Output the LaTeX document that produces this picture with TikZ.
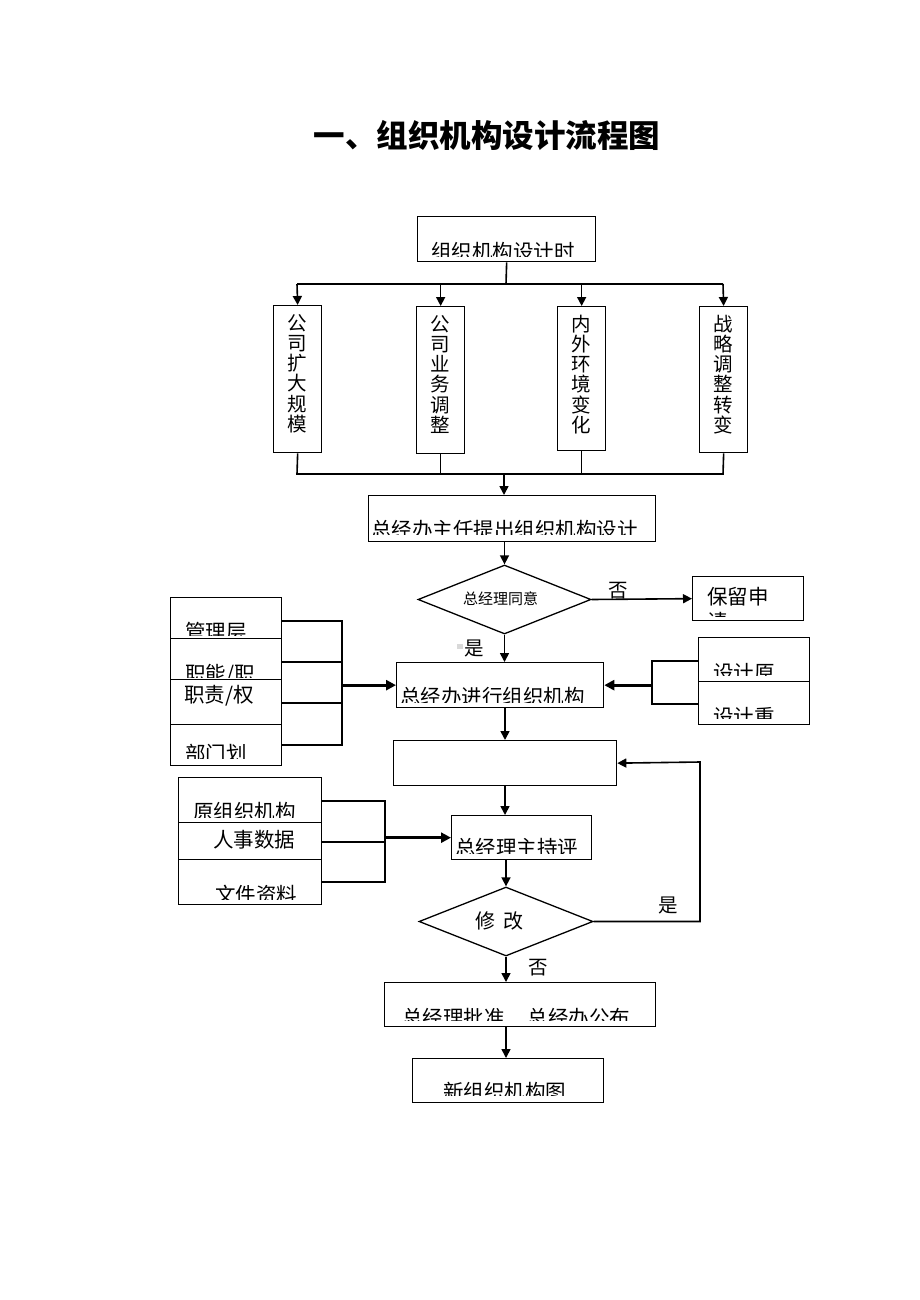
\documentclass[tikz,border=0pt]{standalone}
\usepackage{fontspec}
\setmainfont{Noto Sans CJK SC}
\usetikzlibrary{shapes.geometric,arrows.meta}
\newcommand\ctxt[6]{%
  \begin{scope}
    \clip (#2-8,#3-12) rectangle (#2+420,#4);
    \node[txt,font=\fontsize{#5}{#5}\selectfont] (#1) at (#2,{#3+0.83*#5}) {#6};
  \end{scope}}
\newcommand\ptxt[5]{\node[txt,font=\fontsize{#4}{#4}\selectfont] (#1) at (#2,{#3+0.83*#4}) {#5};}
\begin{document}
\begin{tikzpicture}[x=1pt,y=-1pt,
  box/.style={draw,line width=1.3pt,inner sep=0pt,anchor=north west},
  dia/.style={diamond,draw,line width=1.3pt,inner sep=0pt},
  conn/.style={line width=1.6pt},
  arr/.style={line width=1.6pt,-{Triangle[length=9pt,width=9pt]}},
  thickarr/.style={line width=2.8pt,-{Triangle[length=10pt,width=10pt]}},
  txt/.style={anchor=base west,inner sep=0pt},
  vch/.style={anchor=base,inner sep=0pt,font=\fontsize{19.5}{19.5}\selectfont},
]
\useasboundingbox (0,0) rectangle (920,1300);
\fill[white] (0,0) rectangle (920,1300);

% title
\node[font=\fontsize{31.5}{31.5}\selectfont\bfseries,inner sep=0pt] (title) at (487,135) {一、组织机构设计流程图};

% boxes
\node[box,minimum width=178pt,minimum height=45pt] (top) at (417,216) {};
\node[box,minimum width=48pt,minimum height=147pt] (b1) at (273,305) {};
\node[box,minimum width=48pt,minimum height=147pt] (b2) at (416,306) {};
\node[box,minimum width=48pt,minimum height=144pt] (b3) at (557,306) {};
\node[box,minimum width=48pt,minimum height=146pt] (b4) at (699,306) {};
\node[box,minimum width=287pt,minimum height=46pt] (zr) at (368,495) {};
\node[dia,minimum width=173pt,minimum height=69pt] (d1) at (504.5,599.5) {};
\node[box,minimum width=111pt,minimum height=44pt] (bl) at (692,576) {};
\node[box,minimum width=111pt,minimum height=41pt] (l1) at (170,597) {};
\node[box,minimum width=111pt,minimum height=41pt] (l2) at (170,638) {};
\node[box,minimum width=111pt,minimum height=45pt] (l3) at (170,679) {};
\node[box,minimum width=111pt,minimum height=41pt] (l4) at (170,724) {};
\node[box,minimum width=207pt,minimum height=45pt] (jx) at (396,662) {};
\node[box,minimum width=111pt,minimum height=44pt] (r1) at (698,637) {};
\node[box,minimum width=111pt,minimum height=43pt] (r2) at (698,681) {};
\node[box,minimum width=223pt,minimum height=45pt] (em) at (393,740) {};
\node[box,minimum width=143pt,minimum height=45pt] (g1) at (178,777) {};
\node[box,minimum width=143pt,minimum height=37pt] (g2) at (178,822) {};
\node[box,minimum width=143pt,minimum height=45pt] (g3) at (178,859) {};
\node[box,minimum width=140pt,minimum height=44pt] (pz) at (451,815) {};
\node[dia,minimum width=174pt,minimum height=69pt] (d2) at (506,921.5) {};
\node[box,minimum width=271pt,minimum height=44pt] (ap) at (384,982) {};
\node[box,minimum width=191pt,minimum height=44pt] (nw) at (412,1058) {};

% texts
\ctxt{ttop}{431}{242}{256}{20.5}{组织机构设计时}
\foreach \c [count=\i] in {公,司,扩,大,规,模}
  \node[vch] (v1-\i) at (297,{330+(\i-1)*20.3}) {\c};
\foreach \c [count=\i] in {公,司,业,务,调,整}
  \node[vch] (v2-\i) at (440,{331+(\i-1)*20.3}) {\c};
\foreach \c [count=\i] in {内,外,环,境,变,化}
  \node[vch] (v3-\i) at (581,{331+(\i-1)*20.3}) {\c};
\foreach \c [count=\i] in {战,略,调,整,转,变}
  \node[vch] (v4-\i) at (723,{331+(\i-1)*20.3}) {\c};
\ctxt{tzr}{371}{520}{534}{20.5}{总经办主任提出组织机构设计}
\ptxt{td1}{463}{592}{15}{总经理同意}
\ctxt{tbl}{707}{587}{616}{20.5}{保留申}
\ctxt{tbl2}{707}{612}{616}{20.5}{请}
\ptxt{tno1}{608}{581}{19.5}{否}
\ptxt{tyes1}{464}{639}{19.5}{是}
\fill[black!15] (457,644) rectangle (463,649);
\ctxt{tl1}{185}{622}{635}{20.5}{管理层}
\ctxt{tl2}{185}{664}{677}{20.5}{职能/职}
\ptxt{tl3}{184}{685}{20.5}{职责/权}
\ctxt{tl4}{185}{744}{758}{20.5}{部门划}
\ctxt{tjx}{400}{687}{702}{20.5}{总经办进行组织机构}
\ctxt{tr1}{713}{663}{675}{20.5}{设计原}
\ctxt{tr2}{713}{707}{718}{20.5}{设计重}
\ctxt{tg1}{193}{802}{817}{20.5}{原组织机构}
\ptxt{tg2}{213}{830}{20.5}{人事数据}
\ctxt{tg3}{215}{885}{899}{20.5}{文件资料}
\ctxt{tpz}{455}{838}{853}{20.5}{总经理主持评}
\ptxt{td2}{475}{912}{20}{修\hspace{8pt}改}
\ptxt{tyes2}{658}{896}{19.5}{是}
\ptxt{tno2}{528}{958}{19.5}{否}
\ctxt{tap}{402}{1008}{1020}{20.5}{总经理批准\hspace{23pt}总经办公布}
\ctxt{tnw}{443}{1082}{1095}{20.5}{新组织机构图}

% top fan-out
\coordinate (s1) at (506,284);
\coordinate (h1) at (297,284);
\coordinate (h4) at (723,284);
\draw[conn] (top.south) -- (s1);
\draw[conn] (h1) -- (h4);
\draw[arr] (h1) -- (b1.north);
\draw[arr] (b2.north |- h1) -- (b2.north);
\draw[arr] (b3.north |- h1) -- (b3.north);
\draw[arr] (h4) -- (b4.north);

% fan-in
\coordinate (j1) at (297,474);
\coordinate (j4) at (723,474);
\coordinate (jm) at (504,474);
\draw[conn] (b1.south) -- (j1) -- (j4) -- (b4.south);
\draw[conn] (b2.south) -- (b2.south |- j1);
\draw[conn] (b3.south) -- (b3.south |- j1);
\draw[arr] (jm) -- (jm |- zr.north);

% main flow
\draw[arr] (zr.south -| d1.north) -- (d1.north);
\draw[arr] (d1.east) -- (bl.west);
\draw[arr] (d1.south) -- (d1.south |- jx.north);

% left group 1
\coordinate (a1) at (281,621);
\coordinate (a2) at (281,662);
\coordinate (a3) at (281,703);
\coordinate (a4) at (281,745);
\coordinate (av) at (342,621);
\coordinate (ab) at (342,745);
\draw[conn] (a1) -- (av) -- (ab) -- (a4);
\draw[conn] (a2) -- (a2 -| av);
\draw[conn] (a3) -- (a3 -| av);
\draw[thickarr] (jx.west -| av) -- (jx.west);

% right group
\coordinate (c1) at (698,661);
\coordinate (c2) at (698,704);
\coordinate (cv1) at (652,661);
\coordinate (cv2) at (652,704);
\draw[conn] (c1) -- (cv1) -- (cv2) -- (c2);
\draw[thickarr] (jx.east -| cv1) -- (jx.east);

\coordinate (x505) at (505,0);
\coordinate (x506) at (506,0);
\draw[arr] (jx.south -| x505) -- (em.north -| x505);
\draw[arr] (em.south -| x505) -- (pz.north -| x505);

% left group 2
\coordinate (e1) at (321,801);
\coordinate (e2) at (321,842);
\coordinate (e3) at (321,882);
\coordinate (ev) at (385,801);
\coordinate (eb) at (385,882);
\draw[conn] (e1) -- (ev) -- (eb) -- (e3);
\draw[conn] (e2) -- (e2 -| ev);
\draw[thickarr] (pz.west -| ev) -- (pz.west);

\draw[arr] (pz.south -| d2.north) -- (d2.north);
% feedback
\coordinate (fb) at (700,762);
\draw[arr] (d2.east) -| (fb) -- (em.east);
\draw[arr] (d2.south) -- (d2.south |- ap.north);
\draw[arr] (ap.south -| x506) -- (nw.north -| x506);
\end{tikzpicture}
\end{document}
